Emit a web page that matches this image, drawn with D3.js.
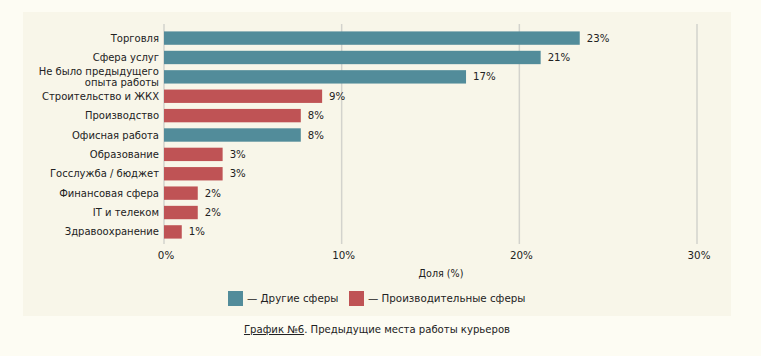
<!DOCTYPE html>
<html><head><meta charset="utf-8">
<script src="https://cdn.jsdelivr.net/npm/d3@7"></script>
<style>
html,body{margin:0;padding:0;background:#fdfcf3;}
svg{display:block;font-family:"DejaVu Sans",sans-serif;}
</style></head>
<body><svg id="c" width="761" height="356"></svg>
<script>
const categories = ["Торговля","Сфера услуг","Не было предыдущего|опыта работы","Строительство и ЖКХ","Производство","Офисная работа","Образование","Госслужба / бюджет","Финансовая сфера","IT и телеком","Здравоохранение"];
const values = [23.4, 21.2, 17.0, 8.9, 7.7, 7.7, 3.3, 3.3, 1.9, 1.9, 1.0];
const labels = ["23%","21%","17%","9%","8%","8%","3%","3%","2%","2%","1%"];
const groups = ["other","other","other","prod","prod","other","prod","prod","prod","prod","prod"];
const xTicks = [0, 10, 20, 30];
const legendKeys = ["other","prod"];
const legendLabels = ["— Другие сферы","— Производительные сферы"];
const colors = {other:"#528c9a", prod:"#bf5355"};

const svg = d3.select("#c");
svg.append("rect").attr("x",23).attr("y",12).attr("width",708).attr("height",304).attr("fill","#f8f6e9");

const x = d3.scaleLinear().domain([0,30]).range([164,697]);
const y = d3.scaleBand().domain(categories).range([28.5,241.5]).paddingInner(0.31).paddingOuter(0.15);

// grid
svg.append("g").selectAll("line").data(xTicks).join("line")
  .attr("x1",d=>x(d)).attr("x2",d=>x(d)).attr("y1",24).attr("y2",244)
  .attr("stroke","#d3d3cd").attr("stroke-width",1.5);

// bars
svg.append("g").selectAll("rect").data(categories).join("rect")
  .attr("x",x(0)).attr("y",d=>y(d)).attr("height",y.bandwidth())
  .attr("width",(d,i)=>x(values[i])-x(0))
  .attr("fill",(d,i)=>colors[groups[i]]);

// value labels
svg.append("g").selectAll("text").data(categories).join("text")
  .attr("x",(d,i)=>x(values[i])+7).attr("y",d=>y(d)+y.bandwidth()/2)
  .attr("dy","0.35em").attr("font-size",10.2).attr("fill","#222")
  .text((d,i)=>labels[i]);

// category labels
const cl = svg.append("g").selectAll("text").data(categories).join("text")
  .attr("x",159).attr("y",d=>y(d)+y.bandwidth()/2)
  .attr("text-anchor","end").attr("font-size",10).attr("fill","#222");
cl.each(function(d){
  const parts = d.split("|");
  const t = d3.select(this);
  parts.forEach((p,i)=>{
    t.append("tspan").attr("x",159)
     .attr("dy", i===0 ? (parts.length>1 ? "-0.15em" : "0.35em") : "1.1em").text(p);
  });
});

// x tick labels
svg.append("g").selectAll("text").data(xTicks).join("text")
  .attr("x",d=>x(d)+2).attr("y",259).attr("text-anchor","middle")
  .attr("font-size",10.3).attr("fill","#222").text(d=>d+"%");

svg.append("text").attr("x",441).attr("y",277).attr("text-anchor","middle")
  .attr("font-size",9.6).attr("fill","#222").text("Доля (%)");

// legend
const lg = svg.append("g");
const lx = [228, 349];
legendKeys.forEach((k,i)=>{
  lg.append("rect").attr("x",lx[i]).attr("y",291).attr("width",15).attr("height",15).attr("fill",colors[k]);
  lg.append("text").attr("x",lx[i]+19).attr("y",298.5).attr("dy","0.35em")
    .attr("font-size",10.3).attr("fill","#222").text(legendLabels[i]);
});

// caption
const cap = svg.append("text").attr("x",377).attr("y",333).attr("text-anchor","middle")
  .attr("font-size",10.1).attr("fill","#222");
cap.append("tspan").attr("text-decoration","underline").text("График №6");
cap.append("tspan").text(". Предыдущие места работы курьеров");
</script></body></html>
